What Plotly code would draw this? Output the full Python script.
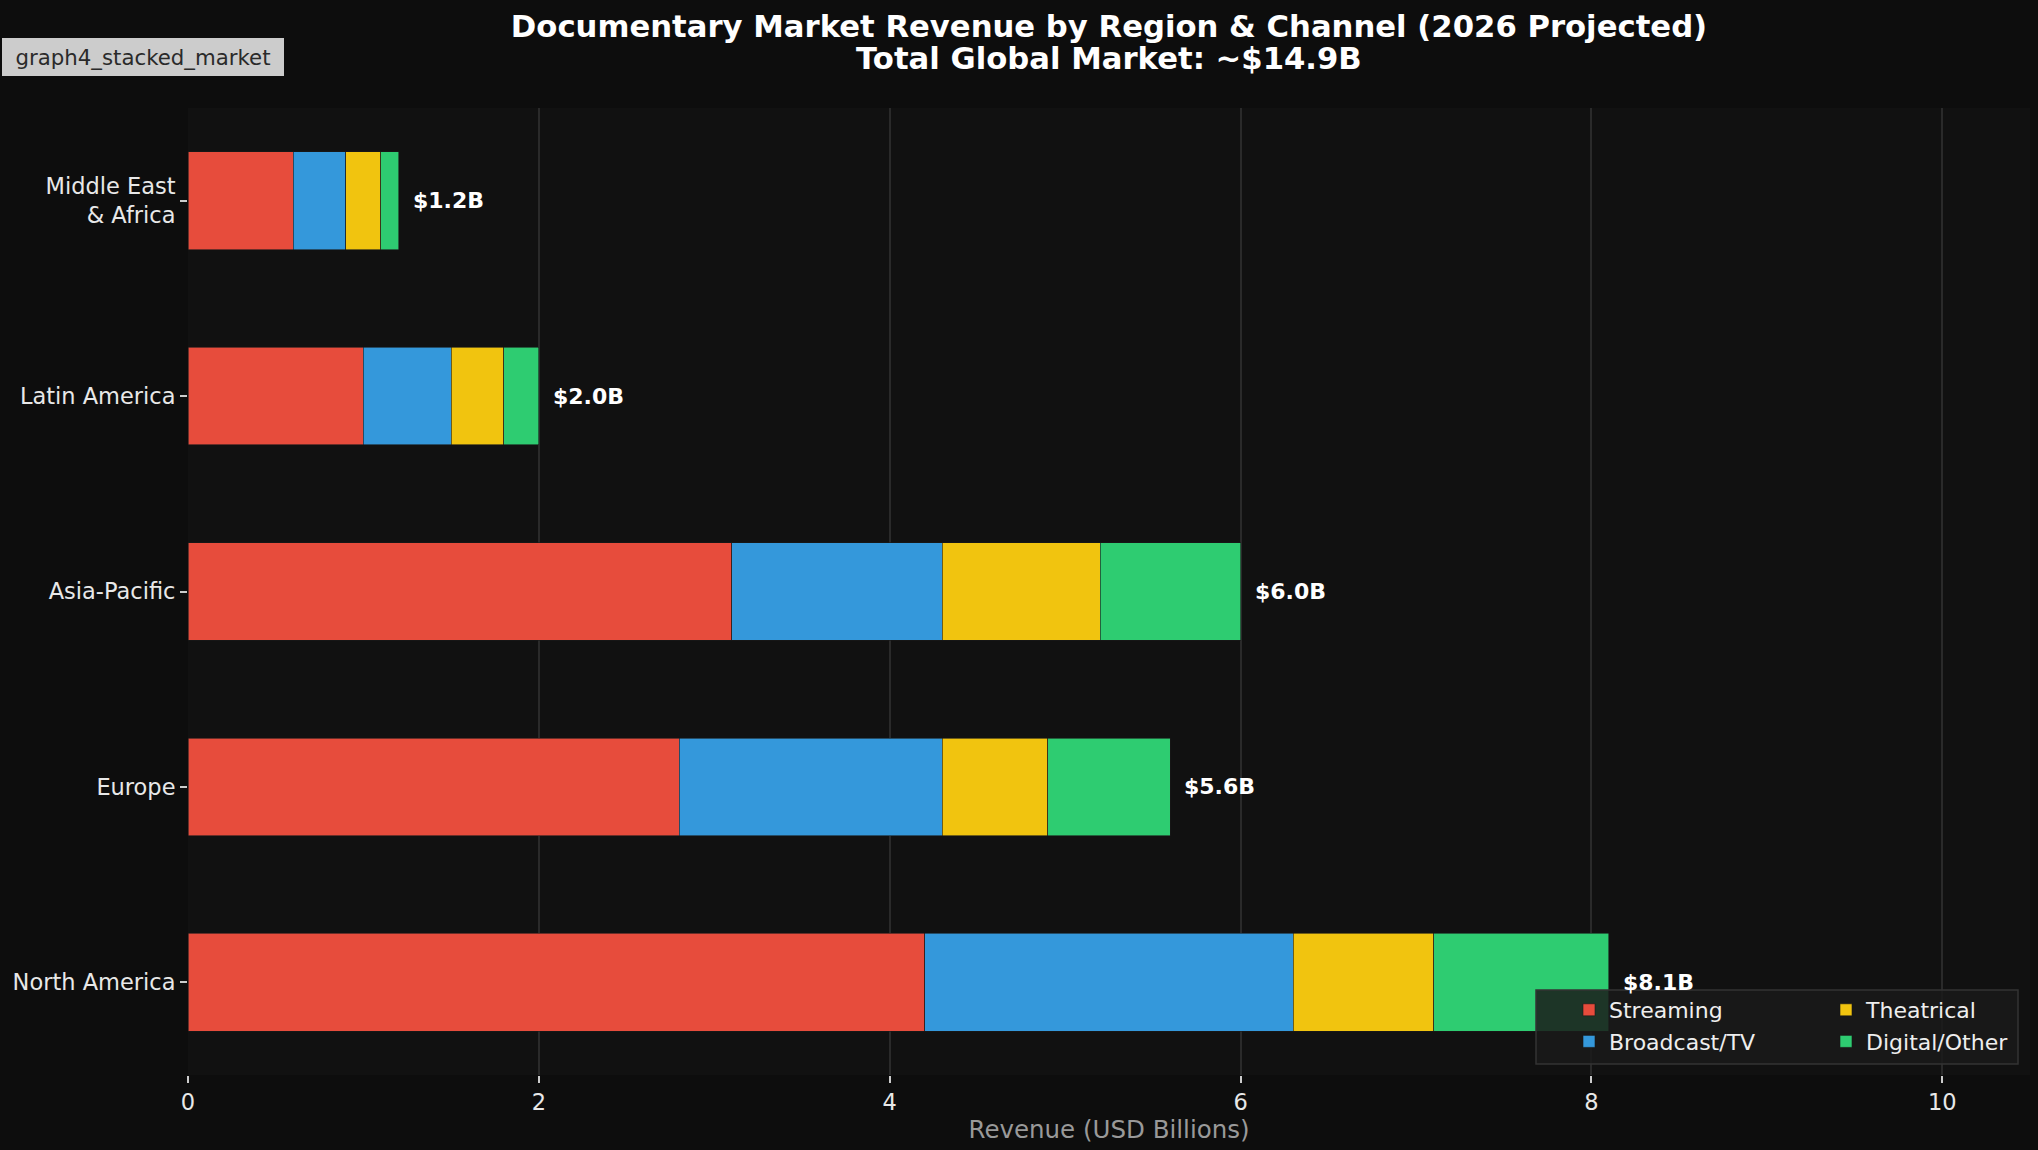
import plotly.graph_objects as go

# ---- data ----
regions = ["North America", "Europe", "Asia-Pacific", "Latin America", "Middle East & Africa"]
region_ticktext = ["North America", "Europe", "Asia-Pacific", "Latin America", "Middle East<br>& Africa"]
streaming = [4.2, 2.8, 3.1, 1.0, 0.6]
broadcast = [2.1, 1.5, 1.2, 0.5, 0.3]
theatrical = [0.8, 0.6, 0.9, 0.3, 0.2]
digital = [1.0, 0.7, 0.8, 0.2, 0.1]
total_labels = ["$8.1B", "$5.6B", "$6.0B", "$2.0B", "$1.2B"]
x_ticks = [0, 2, 4, 6, 8, 10]
title_line1 = "Documentary Market Revenue by Region & Channel (2026 Projected)"
title_line2 = "Total Global Market: ~$14.9B"

channel_names = ["Streaming", "Broadcast/TV", "Theatrical", "Digital/Other"]
channel_values = [streaming, broadcast, theatrical, digital]
channel_colors = ["#e74c3c", "#3498db", "#f1c40f", "#2ecc71"]
channel_legend = ["legend", "legend", "legend2", "legend2"]

W, H = 2038, 1150
ML, MR, MT, MB = 188, 8, 108, 75
PW, PH = W - ML - MR, H - MT - MB


def px_x(p):
    return (p - ML) / PW


def px_y(p):
    return (H - MB - p) / PH


FONT = "DejaVu Sans"

fig = go.Figure()
for name, vals, col, lg in zip(channel_names, channel_values, channel_colors, channel_legend):
    fig.add_trace(go.Bar(
        y=regions, x=vals, name=name, orientation="h", width=0.5,
        marker=dict(color=col, line=dict(color="#1a1a1a", width=0.6)),
        legend=lg,
    ))

totals = [round(sum(v), 1) for v in zip(*channel_values)]
for r, t, lab in zip(regions, totals, total_labels):
    fig.add_annotation(x=t, y=r, xref="x", yref="y", text="<b>%s</b>" % lab,
                       showarrow=False, xanchor="left", yanchor="middle", xshift=12,
                       font=dict(family=FONT, size=22, color="#ffffff"))

# second title line
fig.add_annotation(x=px_x((ML + W - MR) / 2), y=px_y(59), xref="paper", yref="paper",
                   text="<b>%s</b>" % title_line2, showarrow=False,
                   xanchor="center", yanchor="middle",
                   font=dict(family=FONT, size=30.7, color="#ffffff"))

# label box
fig.add_annotation(x=px_x(2), y=px_y(38), xref="paper", yref="paper",
                   text="graph4_stacked_market", showarrow=False,
                   xanchor="left", yanchor="top", width=270, height=26,
                   bgcolor="#cccccc", borderpad=5, bordercolor="#cccccc", borderwidth=1,
                   font=dict(family=FONT, size=21.3, color="#2a2a2a"))

# legend background box
fig.add_shape(type="rect", xref="paper", yref="paper",
              x0=px_x(1536), x1=px_x(2018), y0=px_y(1064), y1=px_y(990),
              fillcolor="rgba(26,26,26,0.85)", line=dict(color="#333333", width=1.5),
              layer="above")

axis_font = dict(family=FONT, size=22.5, color="#e8e8e8")
legend_font = dict(family=FONT, size=22, color="#eeeeee")
fig.update_layout(
    width=W, height=H,
    margin=dict(l=ML, r=MR, t=MT, b=MB),
    paper_bgcolor="#0d0d0d", plot_bgcolor="#111111",
    barmode="stack",
    font=dict(family=FONT, color="#e0e0e0"),
    title=dict(text="<b>%s</b>" % title_line1,
               x=px_x((ML + W - MR) / 2), xref="paper", xanchor="center",
               y=1 - 26 / H, yref="container", yanchor="middle",
               font=dict(family=FONT, size=30.7, color="#ffffff")),
    xaxis=dict(range=[0, 10.5], tickvals=x_ticks, showgrid=True, gridcolor="#2a2a2a", gridwidth=1.5,
               zeroline=False, ticks="outside", ticklen=7, tickwidth=1.5, tickcolor="#cccccc",
               tickfont=axis_font, showline=False,
               title=dict(text="Revenue (USD Billions)", font=dict(family=FONT, size=24.5, color="#999999"),
                          standoff=6)),
    yaxis=dict(range=[-0.475, 4.475], tickvals=regions, ticktext=region_ticktext, showgrid=False,
               zeroline=False, ticks="outside", ticklen=7, tickwidth=1.5, tickcolor="#cccccc",
               tickfont=axis_font, showline=False),
    legend=dict(x=px_x(1569), y=px_y(1026), xanchor="left", yanchor="middle",
                bgcolor="rgba(0,0,0,0)", font=legend_font,
                traceorder="normal", orientation="v", tracegroupgap=0),
    legend2=dict(x=px_x(1826), y=px_y(1026), xanchor="left", yanchor="middle",
                 bgcolor="rgba(0,0,0,0)", font=legend_font,
                 traceorder="normal", orientation="v", tracegroupgap=0),
    showlegend=True,
)

fig.write_html("out.html", config={"displayModeBar": False},
               post_script="document.body.style.margin='0';document.body.style.background='#0d0d0d';")
